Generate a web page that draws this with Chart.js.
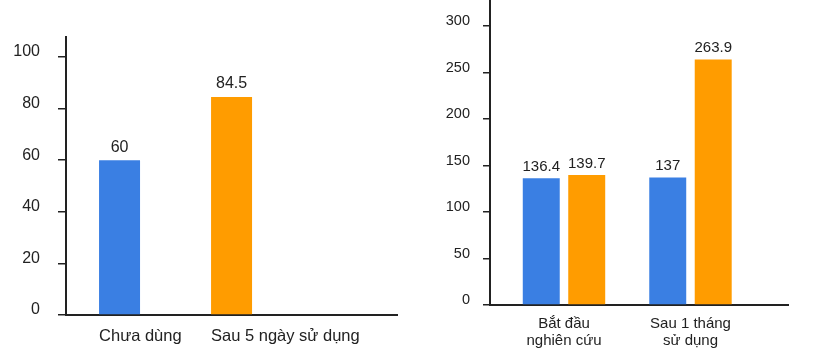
<!DOCTYPE html>
<html>
<head>
<meta charset="utf-8">
<script src="https://cdn.jsdelivr.net/npm/chart.js@4/dist/chart.umd.min.js"></script>
<style>
  body { margin: 0; background: #fff; }
  .box { position: absolute; top: 0; height: 354px; }
</style>
</head>
<body>
<div class="box" style="left:0;width:410px"><canvas id="left" width="410" height="354"></canvas></div>
<div class="box" style="left:410px;width:409px"><canvas id="right" width="409" height="354"></canvas></div>
<script>
// left chart
const leftCats = ['Chưa dùng', 'Sau 5 ngày sử dụng'];
const leftValues = [60, 84.5];
const leftTicks = [0, 20, 40, 60, 80, 100];

// right chart
const rightCats = [['Bắt đầu', 'nghiên cứu'], ['Sau 1 tháng', 'sử dụng']];
const rightBlue = [136.4, 137];
const rightOrange = [139.7, 263.9];
const rightTicks = [0, 50, 100, 150, 200, 250, 300];

const BLUE = '#3a7fe3';
const ORANGE = '#ff9c00';
const INK = '#222';
const FONT = '"Liberation Sans", Arial, Helvetica, sans-serif';

// value above each bar
const barLabels = {
  id: 'barLabels',
  afterDatasetsDraw(chart, args, opts) {
    const ctx = chart.ctx;
    ctx.save();
    ctx.font = opts.size + 'px ' + FONT;
    ctx.fillStyle = INK;
    ctx.textAlign = 'center';
    ctx.textBaseline = 'bottom';
    chart.data.datasets.forEach((ds, di) => {
      chart.getDatasetMeta(di).data.forEach((bar, i) => {
        ctx.fillText(String(ds.data[i].y), bar.x, bar.y - opts.gap);
      });
    });
    ctx.restore();
  }
};

const makeChart = (id, cfg) => {
  return new Chart(document.getElementById(id), {
    type: 'bar',
    data: { datasets: cfg.datasets },
    plugins: [barLabels],
    options: {
      responsive: false,
      animation: false,
      devicePixelRatio: 1,
      layout: { padding: cfg.padding },
      plugins: {
        legend: { display: false },
        tooltip: { enabled: false },
        barLabels: cfg.labels
      },
      scales: {
        x: {
          type: 'linear',
          offset: false,
          bounds: 'data',
          min: cfg.xMin,
          max: cfg.xMax,
          grid: { display: false, drawTicks: false, offset: false },
          border: { display: true, color: INK, width: 2 },
          afterFit: (s) => { s.height = cfg.xHeight; s.paddingLeft = 0; s.paddingRight = 0; },
          afterBuildTicks: (s) => { s.ticks = cfg.cats.map((c, i) => ({ value: i })); },
          ticks: {
            autoSkip: false,
            maxRotation: 0,
            align: cfg.xAlign,
            labelOffset: cfg.xLabelOffset,
            padding: cfg.xPad,
            color: INK,
            font: { family: FONT, size: cfg.xFont, lineHeight: cfg.xLine },
            callback: (v) => cfg.cats[v]
          }
        },
        y: {
          min: 0,
          max: cfg.yMax,
          grid: { drawOnChartArea: false, drawTicks: true, tickLength: cfg.tickLen, color: INK, lineWidth: 1.5 },
          border: { display: true, color: INK, width: 2 },
          afterFit: (s) => { s.width = cfg.yWidth; s.paddingTop = 0; s.paddingBottom = 0; },
          afterBuildTicks: (s) => { s.ticks = cfg.yTicks.map((v) => ({ value: v })); },
          ticks: {
            padding: cfg.yPad,
            labelOffset: -5,
            color: INK,
            font: { family: FONT, size: cfg.yFont }
          }
        }
      }
    }
  });
};

makeChart('left', {
  datasets: [{
    data: leftCats.map((c, i) => ({ x: i, y: leftValues[i] })),
    backgroundColor: [BLUE, ORANGE],
    categoryPercentage: 1,
    barPercentage: 0.366
  }],
  cats: leftCats,
  padding: { top: 37, right: 13, left: 0, bottom: 0 },
  xMin: -0.478, xMax: 2.477,
  xHeight: 39, xAlign: 'start', xLabelOffset: -20.5, xPad: 12, xFont: 16.5, xLine: 1.2,
  yMax: 107.75, yTicks: leftTicks, yWidth: 66, yPad: 18, tickLen: 8, yFont: 16,
  labels: { size: 16, gap: 5 }
});

makeChart('right', {
  datasets: [{
    data: rightCats.map((c, i) => ({ x: i, y: rightBlue[i] })),
    backgroundColor: BLUE,
    categoryPercentage: 0.719,
    barPercentage: 0.813
  }, {
    data: rightCats.map((c, i) => ({ x: i, y: rightOrange[i] })),
    backgroundColor: ORANGE,
    categoryPercentage: 0.719,
    barPercentage: 0.813
  }],
  cats: rightCats,
  padding: { top: 0, right: 31, left: 0, bottom: 0 },
  xMin: -0.585, xMax: 1.771,
  xHeight: 49, xAlign: 'center', xLabelOffset: 0, xPad: 10, xFont: 15, xLine: 1.15,
  yMax: 328, yTicks: rightTicks, yWidth: 80, yPad: 13, tickLen: 7, yFont: 14.5,
  labels: { size: 15, gap: 4 }
});
</script>
</body>
</html>
